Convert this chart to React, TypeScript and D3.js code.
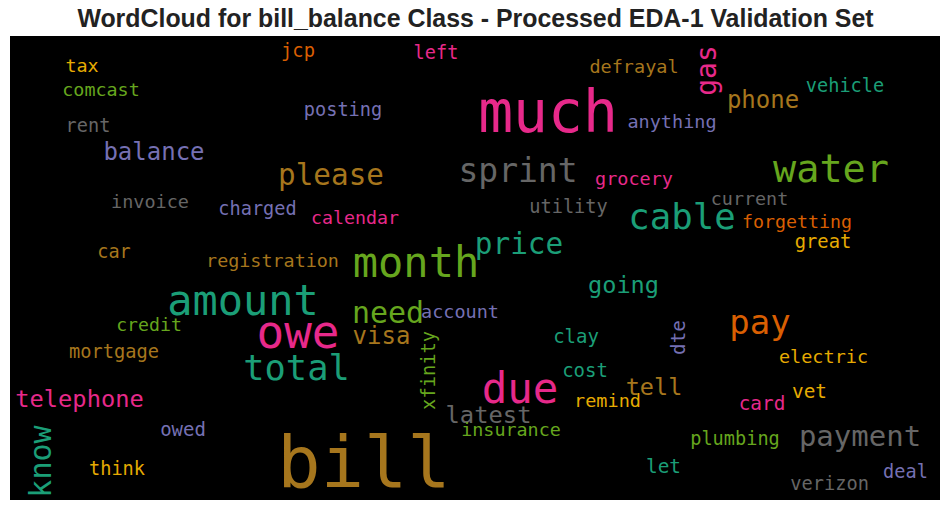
import React from "react";
import * as d3 from "d3";

const TITLE = "WordCloud for bill_balance Class - Processed EDA-1 Validation Set";

// words of the cloud
const words = [
  "tax", "comcast", "rent", "balance", "jcp", "left", "posting", "much", "sprint", "please",
  "defrayal", "grocery", "vehicle", "phone", "anything", "water", "invoice", "charged", "car", "registration",
  "amount", "credit", "owe", "utility", "calendar", "price", "month", "going", "need", "account",
  "visa", "clay", "current", "cable", "forgetting", "great", "pay", "mortgage", "total", "telephone",
  "owed", "think", "due", "cost", "remind", "latest", "insurance", "bill", "electric", "tell",
  "vet", "card", "plumbing", "payment", "let", "deal", "verizon", "gas", "know", "xfinity", "dte",
];

// relative weight (font size in px of the cloud)
const weights = [
  18.4, 18.4, 18.6, 24, 18.8, 18.6, 18.6, 58, 33, 29.3,
  18.5, 18.5, 18.6, 24, 18.5, 38.5, 18.5, 18.6, 18.6, 18.4,
  42, 18.2, 46, 18.6, 18.3, 29.4, 42, 23.6, 30, 18.5,
  24, 19, 18.4, 35.7, 18.3, 18.8, 34, 18.7, 35.4, 23.7,
  19, 18.6, 42.5, 19, 18.5, 23.8, 18.4, 72, 18.5, 23.5,
  19.4, 19.4, 18.6, 29, 19.4, 18.6, 18.7, 28, 30, 18.7, 19.4,
];

// index into d3.schemeDark2
const colorIdx = [
  5, 4, 7, 2, 1, 3, 2, 3, 7, 6,
  6, 3, 0, 6, 2, 4, 7, 2, 6, 6,
  0, 4, 3, 7, 3, 0, 4, 0, 4, 2,
  6, 0, 7, 0, 1, 5, 1, 6, 0, 3,
  2, 5, 3, 0, 5, 7, 4, 6, 5, 6,
  5, 3, 4, 7, 0, 2, 7, 3, 0, 4, 2,
];

// layout position (center x / baseline y within the cloud canvas)
const layoutX = [
  72, 91, 78, 144, 288, 426, 333, 538, 508, 321,
  624, 624, 835, 753, 662, 821, 140, 247.5, 104, 262.5,
  233, 139, 288, 558.5, 345, 509, 406, 613.5, 378, 450,
  371.5, 566, 739.5, 672, 787, 813, 750, 104, 286.5, 69.5,
  173, 107, 510, 575, 597.5, 478.5, 501, 354, 813.5, 644,
  799.5, 752, 725, 850, 653.5, 895.5, 819.5, 706, 41, 425, 675,
];
const layoutY = [
  36, 60, 96, 124, 21, 23, 80, 96, 146, 149,
  37, 149, 56, 72, 92, 146, 172, 179, 222, 231,
  279, 295, 312, 177, 188, 218, 241, 257, 287, 282,
  308, 307, 169, 193, 192, 212, 298, 322, 344, 371,
  400, 439, 367, 341, 371, 387, 400, 451, 327, 359,
  362, 374, 409, 410, 437, 442, 454, 34.5, 425.5, 334.5, 301.5,
];
const vertical = [
  0, 0, 0, 0, 0, 0, 0, 0, 0, 0,
  0, 0, 0, 0, 0, 0, 0, 0, 0, 0,
  0, 0, 0, 0, 0, 0, 0, 0, 0, 0,
  0, 0, 0, 0, 0, 0, 0, 0, 0, 0,
  0, 0, 0, 0, 0, 0, 0, 0, 0, 0,
  0, 0, 0, 0, 0, 0, 0, 1, 1, 1, 1,
];

const W = 950;
const H = 511;
const BOX = { x: 10, y: 36, w: 930, h: 464 };

export default function App() {
  const sx = d3.scaleLinear().domain([0, BOX.w]).range([BOX.x, BOX.x + BOX.w]);
  const sy = d3.scaleLinear().domain([0, BOX.h]).range([BOX.y, BOX.y + BOX.h]);
  const fs = d3.scaleLinear().domain([0, 1]).range([0, 1]);
  const color = d3.scaleOrdinal<number, string>().domain(d3.range(8)).range(d3.schemeDark2 as string[]);

  return (
    <svg
      width={W}
      height={H}
      style={{ position: "absolute", left: 0, top: 0, background: "#fff" }}
    >
      <text
        x={W / 2 + 0.5}
        y={27}
        textAnchor="middle"
        fontFamily="Arial, 'Liberation Sans', sans-serif"
        fontWeight="bold"
        fontSize={24.9}
        fill="#222"
      >
        {TITLE}
      </text>
      <rect x={BOX.x} y={BOX.y} width={BOX.w} height={BOX.h} fill="#000" />
      <g fontFamily="'DejaVu Sans Mono', monospace">
        {words.map((w, i) => (
          <text
            key={w}
            transform={`translate(${sx(layoutX[i])},${sy(layoutY[i])})${vertical[i] ? " rotate(-90)" : ""}`}
            textAnchor="middle"
            fontSize={fs(weights[i])}
            fill={color(colorIdx[i])}
          >
            {w}
          </text>
        ))}
      </g>
    </svg>
  );
}
